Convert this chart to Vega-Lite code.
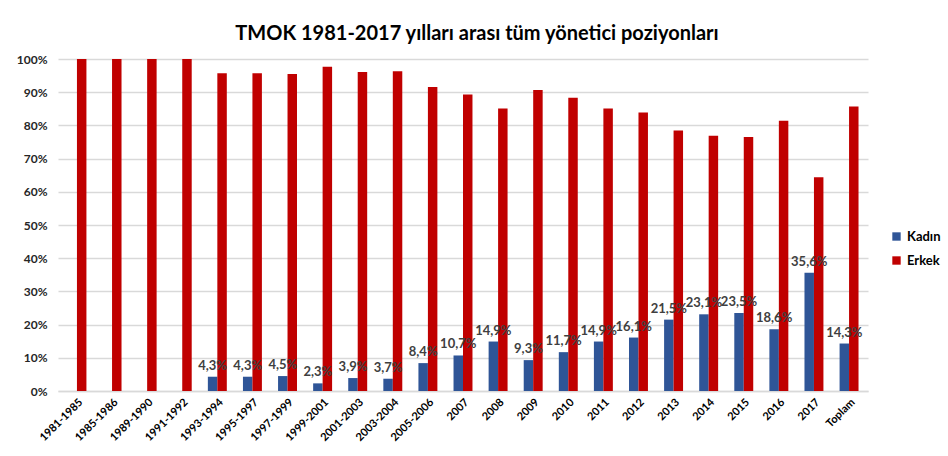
{
  "$schema": "https://vega.github.io/schema/vega-lite/v6.json",
  "width": 810,
  "height": 332,
  "autosize": {"type": "none"},
  "padding": {"left": 58, "top": 59, "right": 80, "bottom": 65},
  "background": "white",
  "config": {
    "locale": {"number": {"decimal": ",", "thousands": ".", "grouping": [3], "currency": ["", ""]}},
    "font": "Lato",
    "view": {"stroke": null}
  },
  "title": {
    "text": "TMOK 1981-2017 yılları arası tüm yönetici poziyonları",
    "fontSize": 20,
    "fontWeight": "bold",
    "color": "#000000",
    "anchor": "middle",
    "offset": 9,
    "dx": 14
  },
  "data": {
    "values": [
      {"Donem": "1981-1985", "Cinsiyet": "Kadın", "Oran": 0},
      {"Donem": "1981-1985", "Cinsiyet": "Erkek", "Oran": 1},
      {"Donem": "1985-1986", "Cinsiyet": "Kadın", "Oran": 0},
      {"Donem": "1985-1986", "Cinsiyet": "Erkek", "Oran": 1},
      {"Donem": "1989-1990", "Cinsiyet": "Kadın", "Oran": 0},
      {"Donem": "1989-1990", "Cinsiyet": "Erkek", "Oran": 1},
      {"Donem": "1991-1992", "Cinsiyet": "Kadın", "Oran": 0},
      {"Donem": "1991-1992", "Cinsiyet": "Erkek", "Oran": 1},
      {"Donem": "1993-1994", "Cinsiyet": "Kadın", "Oran": 0.043},
      {"Donem": "1993-1994", "Cinsiyet": "Erkek", "Oran": 0.957},
      {"Donem": "1995-1997", "Cinsiyet": "Kadın", "Oran": 0.043},
      {"Donem": "1995-1997", "Cinsiyet": "Erkek", "Oran": 0.957},
      {"Donem": "1997-1999", "Cinsiyet": "Kadın", "Oran": 0.045},
      {"Donem": "1997-1999", "Cinsiyet": "Erkek", "Oran": 0.955},
      {"Donem": "1999-2001", "Cinsiyet": "Kadın", "Oran": 0.023},
      {"Donem": "1999-2001", "Cinsiyet": "Erkek", "Oran": 0.977},
      {"Donem": "2001-2003", "Cinsiyet": "Kadın", "Oran": 0.039},
      {"Donem": "2001-2003", "Cinsiyet": "Erkek", "Oran": 0.961},
      {"Donem": "2003-2004", "Cinsiyet": "Kadın", "Oran": 0.037},
      {"Donem": "2003-2004", "Cinsiyet": "Erkek", "Oran": 0.963},
      {"Donem": "2005-2006", "Cinsiyet": "Kadın", "Oran": 0.084},
      {"Donem": "2005-2006", "Cinsiyet": "Erkek", "Oran": 0.916},
      {"Donem": "2007", "Cinsiyet": "Kadın", "Oran": 0.107},
      {"Donem": "2007", "Cinsiyet": "Erkek", "Oran": 0.893},
      {"Donem": "2008", "Cinsiyet": "Kadın", "Oran": 0.149},
      {"Donem": "2008", "Cinsiyet": "Erkek", "Oran": 0.851},
      {"Donem": "2009", "Cinsiyet": "Kadın", "Oran": 0.093},
      {"Donem": "2009", "Cinsiyet": "Erkek", "Oran": 0.907},
      {"Donem": "2010", "Cinsiyet": "Kadın", "Oran": 0.117},
      {"Donem": "2010", "Cinsiyet": "Erkek", "Oran": 0.883},
      {"Donem": "2011", "Cinsiyet": "Kadın", "Oran": 0.149},
      {"Donem": "2011", "Cinsiyet": "Erkek", "Oran": 0.851},
      {"Donem": "2012", "Cinsiyet": "Kadın", "Oran": 0.161},
      {"Donem": "2012", "Cinsiyet": "Erkek", "Oran": 0.839},
      {"Donem": "2013", "Cinsiyet": "Kadın", "Oran": 0.215},
      {"Donem": "2013", "Cinsiyet": "Erkek", "Oran": 0.785},
      {"Donem": "2014", "Cinsiyet": "Kadın", "Oran": 0.231},
      {"Donem": "2014", "Cinsiyet": "Erkek", "Oran": 0.769},
      {"Donem": "2015", "Cinsiyet": "Kadın", "Oran": 0.235},
      {"Donem": "2015", "Cinsiyet": "Erkek", "Oran": 0.765},
      {"Donem": "2016", "Cinsiyet": "Kadın", "Oran": 0.186},
      {"Donem": "2016", "Cinsiyet": "Erkek", "Oran": 0.814},
      {"Donem": "2017", "Cinsiyet": "Kadın", "Oran": 0.356},
      {"Donem": "2017", "Cinsiyet": "Erkek", "Oran": 0.644},
      {"Donem": "Toplam", "Cinsiyet": "Kadın", "Oran": 0.143},
      {"Donem": "Toplam", "Cinsiyet": "Erkek", "Oran": 0.857}
    ]
  },
  "encoding": {
    "x": {
      "field": "Donem",
      "type": "nominal",
      "sort": null,
      "scale": {"paddingInner": 0.46, "paddingOuter": 0.27},
      "axis": {
        "title": null,
        "labelAngle": -45,
        "labelFontSize": 11,
        "labelFontWeight": "bold",
        "labelColor": "#000000",
        "ticks": false,
        "domainColor": "#d9d9d9",
        "domainWidth": 1.5,
        "labelPadding": 5
      }
    },
    "xOffset": {"field": "Cinsiyet", "type": "nominal", "scale": {"domain": ["Kadın", "Erkek"]}},
    "y": {
      "field": "Oran",
      "type": "quantitative",
      "scale": {"domain": [0, 1]},
      "axis": {
        "title": null,
        "values": [0, 0.1, 0.2, 0.3, 0.4, 0.5, 0.6, 0.7, 0.8, 0.9, 1],
        "format": ".0%",
        "domain": false,
        "ticks": false,
        "gridColor": "#d9d9d9",
        "gridWidth": 1.5,
        "labelFontSize": 12,
        "labelFontWeight": "bold",
        "labelColor": "#262626",
        "labelPadding": 11
      }
    }
  },
  "layer": [
    {
      "mark": {"type": "bar"},
      "encoding": {
        "color": {
          "field": "Cinsiyet",
          "type": "nominal",
          "scale": {"domain": ["Kadın", "Erkek"], "range": ["#2F5597", "#C00000"]},
          "legend": {
            "title": null,
            "orient": "none",
            "legendX": 832,
            "legendY": 171,
            "symbolType": "square",
            "symbolSize": 70,
            "symbolStrokeWidth": 0,
            "labelFontSize": 13,
            "labelFontWeight": "bold",
            "labelColor": "#000000",
            "rowPadding": 10
          }
        }
      }
    },
    {
      "transform": [{"filter": "datum.Cinsiyet == 'Kadın' && datum.Oran > 0"}],
      "mark": {"type": "text", "baseline": "bottom", "dy": -4, "fontSize": 13, "fontWeight": "bold", "color": "#404040"},
      "encoding": {
        "text": {"field": "Oran", "type": "quantitative", "format": ".1%"}
      }
    }
  ]
}
